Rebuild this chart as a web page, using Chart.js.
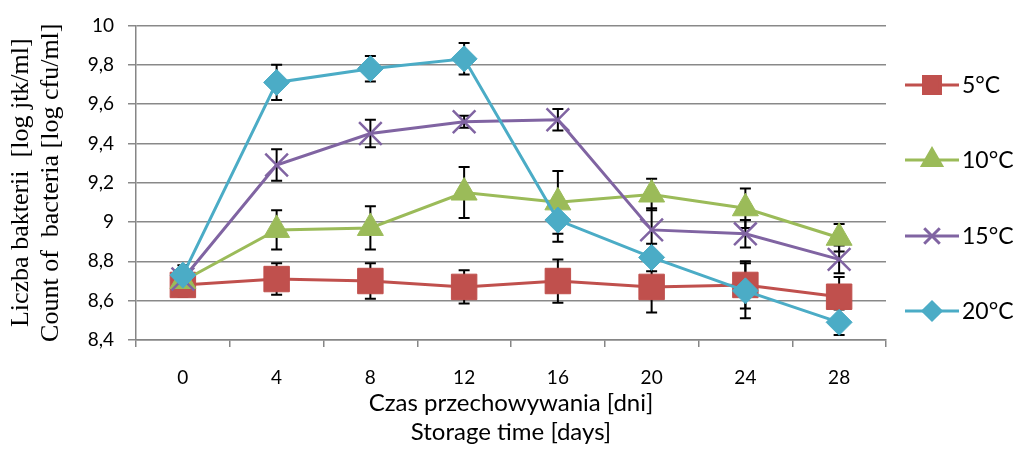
<!DOCTYPE html>
<html>
<head>
<meta charset="utf-8">
<script src="https://cdn.jsdelivr.net/npm/chart.js@4/dist/chart.umd.min.js"></script>
<style>
html,body{margin:0;padding:0;background:#fff;}
#wrap{width:1015px;height:450px;position:relative;}
</style>
</head>
<body>
<div id="wrap"><canvas id="c" width="1015" height="450"></canvas></div>
<script>
const days = ['0','4','8','12','16','20','24','28'];
const yTicks = [8.4, 8.6, 8.8, 9, 9.2, 9.4, 9.6, 9.8, 10];
const seriesNames = ['5°C','10°C','15°C','20°C'];
const t5    = [8.68, 8.71, 8.70, 8.67, 8.70, 8.67, 8.68, 8.62];
const t5err = [0.06, 0.08, 0.09, 0.085, 0.11, 0.13, 0.12, 0.10];
const t10    = [8.70, 8.96, 8.97, 9.15, 9.10, 9.14, 9.07, 8.92];
const t10err = [0.05, 0.10, 0.11, 0.13, 0.16, 0.08, 0.10, 0.07];
const t15    = [8.71, 9.29, 9.45, 9.51, 9.52, 8.96, 8.94, 8.81];
const t15err = [0.05, 0.08, 0.07, 0.03, 0.055, 0.11, 0.07, 0.07];
const t20    = [8.73, 9.71, 9.78, 9.83, 9.01, 8.82, 8.65, 8.49];
const t20err = [0.05, 0.09, 0.065, 0.08, 0.11, 0.07, 0.14, 0.065];

const FONT = 'Lato, "Open Sans", sans-serif';

const colors = ['#C0504D','#9BBB59','#8064A2','#4BACC6'];
const styles = ['rect','triangle','crossRot','rectRot'];
const radii = [18, 15, 16, 13];
const legendRadii = [12, 11, 11, 9];
const vals = [t5, t10, t15, t20];
const errs = [t5err, t10err, t15err, t20err];

const datasets = vals.map((v, i) => ({
  label: seriesNames[i],
  data: v,
  errors: errs[i],
  borderColor: colors[i],
  backgroundColor: colors[i],
  pointStyle: styles[i],
  pointRadius: radii[i],
  pointHoverRadius: radii[i],
  pointBorderColor: colors[i],
  pointBackgroundColor: colors[i],
  pointBorderWidth: styles[i] === 'crossRot' ? 2.5 : 1,
  borderWidth: 3,
  tension: 0,
  order: 4 - i
}));

const errorBars = {
  id: 'errorBars',
  beforeDatasetsDraw(chart) {
    const ctx = chart.ctx;
    const ys = chart.scales.y;
    ctx.save();
    ctx.strokeStyle = '#000';
    ctx.lineWidth = 2;
    chart.data.datasets.forEach((ds, di) => {
      const meta = chart.getDatasetMeta(di);
      meta.data.forEach((pt, j) => {
        const v = ds.data[j], e = ds.errors[j];
        const x = pt.x;
        const y1 = ys.getPixelForValue(v + e);
        const y2 = ys.getPixelForValue(v - e);
        ctx.beginPath();
        ctx.moveTo(x, y1); ctx.lineTo(x, y2);
        ctx.moveTo(x - 5.5, y1); ctx.lineTo(x + 5.5, y1);
        ctx.moveTo(x - 5.5, y2); ctx.lineTo(x + 5.5, y2);
        ctx.stroke();
      });
    });
    ctx.restore();
  }
};

const customLegend = {
  id: 'customLegend',
  afterDraw(chart) {
    const ctx = chart.ctx;
    const ys = [85, 160, 236, 311];
    ctx.save();
    chart.data.datasets.forEach((ds, i) => {
      const y = ys[i];
      ctx.strokeStyle = ds.borderColor;
      ctx.lineWidth = 3;
      ctx.beginPath();
      ctx.moveTo(905, y); ctx.lineTo(959, y);
      ctx.stroke();
      ctx.fillStyle = ds.borderColor;
      ctx.strokeStyle = ds.borderColor;
      Chart.helpers.drawPoint(ctx, {
        pointStyle: ds.pointStyle,
        radius: legendRadii[i],
        rotation: 0,
        borderWidth: ds.pointStyle === 'crossRot' ? 2.5 : 1
      }, 932, y);
      ctx.fillStyle = '#000';
      ctx.font = '23px ' + FONT;
      ctx.textAlign = 'left';
      ctx.textBaseline = 'middle';
      ctx.fillText(ds.label, 962, y + 1);
    });
    ctx.restore();
  }
};

new Chart(document.getElementById('c'), {
  type: 'line',
  data: { labels: days, datasets },
  plugins: [errorBars, customLegend],
  options: {
    responsive: false,
    animation: false,
    events: [],
    layout: { padding: { top: 21, right: 129, left: 0, bottom: 0 } },
    plugins: { legend: { display: false }, tooltip: { enabled: false } },
    scales: {
      x: {
        type: 'category',
        offset: true,
        afterFit(s) { s.height = 110; },
        grid: {
          offset: true,
          drawOnChartArea: false,
          drawTicks: true,
          tickLength: 7,
          color: '#868686',
          lineWidth: 1.5
        },
        border: { color: '#868686', width: 1.5 },
        ticks: { color: '#000', font: { family: FONT, size: 19 }, padding: 19 },
        title: {
          display: true,
          text: ['Czas przechowywania [dni]', 'Storage time [days]'],
          color: '#000',
          font: { family: FONT, size: 24, lineHeight: 29 / 24 },
          padding: { top: 0, bottom: 3.5 }
        }
      },
      y: {
        min: 8.4,
        max: 10,
        afterFit(s) { s.width = 136; },
        afterBuildTicks(s) { s.ticks = yTicks.map(v => ({ value: v })); },
        grid: {
          color: '#898989',
          lineWidth: 1.5,
          tickLength: 8
        },
        border: { color: '#868686', width: 1.5 },
        ticks: {
          color: '#000',
          font: { family: FONT, size: 19 },
          padding: 14,
          callback: v => String(Math.round(v * 10) / 10).replace('.', ',')
        },
        title: {
          display: true,
          text: ['Liczba bakterii  [log jtk/ml]', 'Count of  bacteria [log cfu/ml]'],
          color: '#000',
          font: { family: '"Liberation Serif", "Times New Roman", serif', size: 26, lineHeight: 30 / 26 },
          padding: { top: 6.5, bottom: 0 }
        }
      }
    }
  }
});
</script>
</body>
</html>
